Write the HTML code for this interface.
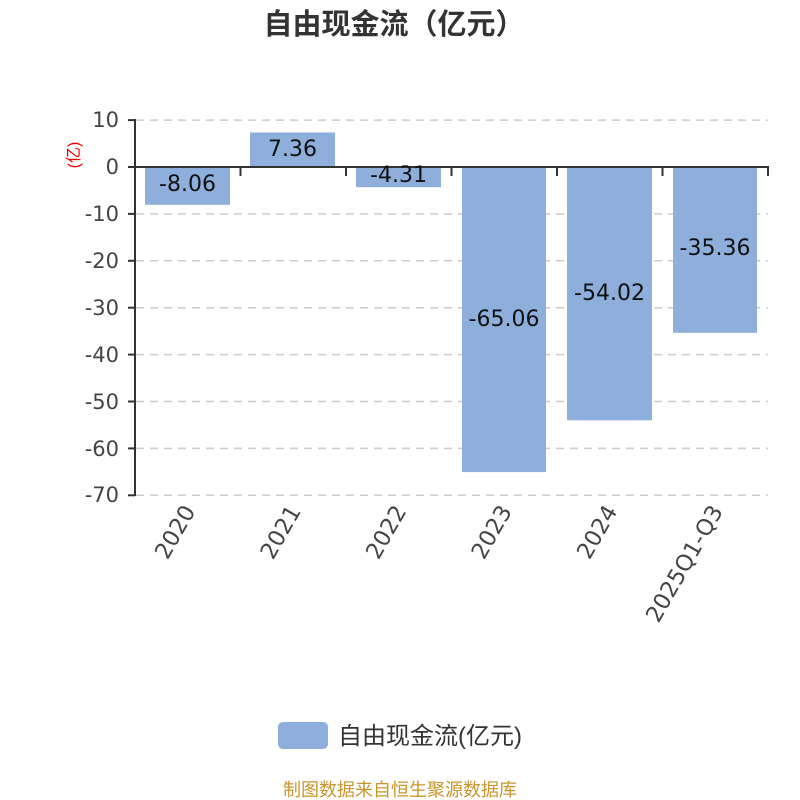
<!DOCTYPE html>
<html><head><meta charset="utf-8"><style>
body{margin:0;background:#fff}
svg{display:block;font-family:"DejaVu Sans","Noto Sans CJK SC",sans-serif}
.cjk{font-family:"Liberation Sans","Noto Sans CJK SC",sans-serif}
</style></head><body>
<svg width="800" height="800" viewBox="0 0 800 800">
<text class="cjk" x="394" y="34" text-anchor="middle" font-size="29" font-weight="bold" fill="#333">自由现金流（亿元）</text>
<g stroke="#ccc" stroke-width="1.5" stroke-dasharray="8,6">
<line x1="136" y1="120.1" x2="768" y2="120.1"/>
<line x1="136" y1="213.9" x2="768" y2="213.9"/>
<line x1="136" y1="260.8" x2="768" y2="260.8"/>
<line x1="136" y1="307.7" x2="768" y2="307.7"/>
<line x1="136" y1="354.6" x2="768" y2="354.6"/>
<line x1="136" y1="401.5" x2="768" y2="401.5"/>
<line x1="136" y1="448.4" x2="768" y2="448.4"/>
<line x1="136" y1="495.3" x2="768" y2="495.3"/>
</g>
<g fill="#8eaedb">
<rect x="145" y="167" width="85" height="37.8"/>
<rect x="250" y="132.5" width="85" height="34.5"/>
<rect x="356" y="167" width="85" height="20.2"/>
<rect x="462" y="167" width="84" height="305.1"/>
<rect x="567" y="167" width="85" height="253.3"/>
<rect x="673" y="167" width="84" height="165.8"/>
</g>
<g stroke="#333" stroke-width="2" fill="none">
<line x1="135" y1="119" x2="135" y2="496"/>
<line x1="134" y1="167" x2="769" y2="167"/>
<line x1="128" y1="120.1" x2="135" y2="120.1"/>
<line x1="128" y1="167" x2="135" y2="167"/>
<line x1="128" y1="213.9" x2="135" y2="213.9"/>
<line x1="128" y1="260.8" x2="135" y2="260.8"/>
<line x1="128" y1="307.7" x2="135" y2="307.7"/>
<line x1="128" y1="354.6" x2="135" y2="354.6"/>
<line x1="128" y1="401.5" x2="135" y2="401.5"/>
<line x1="128" y1="448.4" x2="135" y2="448.4"/>
<line x1="128" y1="495.3" x2="135" y2="495.3"/>
<line x1="240.5" y1="167" x2="240.5" y2="176"/>
<line x1="346" y1="167" x2="346" y2="176"/>
<line x1="451.5" y1="167" x2="451.5" y2="176"/>
<line x1="557" y1="167" x2="557" y2="176"/>
<line x1="662.5" y1="167" x2="662.5" y2="176"/>
<line x1="768" y1="167" x2="768" y2="176"/>
</g>
<g font-size="21" fill="#444" text-anchor="end">
<text x="119" y="127">10</text>
<text x="119" y="174">0</text>
<text x="119" y="221">-10</text>
<text x="119" y="268">-20</text>
<text x="119" y="315">-30</text>
<text x="119" y="362">-40</text>
<text x="119" y="409">-50</text>
<text x="119" y="456">-60</text>
<text x="119" y="502">-70</text>
</g>
<text class="cjk" transform="translate(79,155) rotate(-90)" text-anchor="middle" font-size="16" fill="#e00">(亿)</text>
<g font-size="22" fill="#111" text-anchor="middle">
<text x="187.5" y="191">-8.06</text>
<text x="292.5" y="156">7.36</text>
<text x="398.5" y="182">-4.31</text>
<text x="504" y="326">-65.06</text>
<text x="609.5" y="300">-54.02</text>
<text x="715" y="255">-35.36</text>
</g>
<g font-size="22.5" fill="#444" text-anchor="end">
<text transform="translate(196,511) rotate(-60)">2020</text>
<text transform="translate(301.5,511) rotate(-60)">2021</text>
<text transform="translate(407,511) rotate(-60)">2022</text>
<text transform="translate(512.5,511) rotate(-60)">2023</text>
<text transform="translate(618,511) rotate(-60)">2024</text>
<text transform="translate(723.5,511) rotate(-60)">2025Q1-Q3</text>
</g>
<rect x="278" y="722" width="50" height="27" rx="5" fill="#8eaedb"/>
<text class="cjk" x="338" y="744" font-size="24" fill="#333">自由现金流(亿元)</text>
<text class="cjk" x="400" y="796" text-anchor="middle" font-size="18" fill="#c8962a">制图数据来自恒生聚源数据库</text>
</svg>
</body></html>
